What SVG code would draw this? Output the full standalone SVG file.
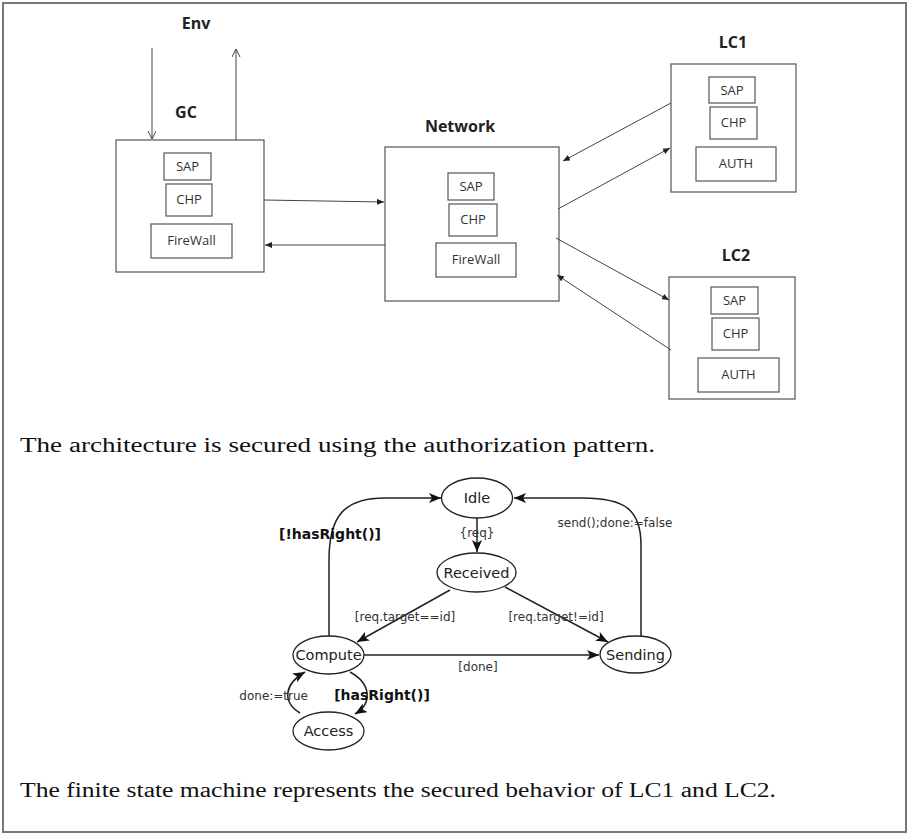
<svg xmlns="http://www.w3.org/2000/svg" width="909" height="836" viewBox="0 0 909 836">
<style>
.box{fill:none;stroke:#555;stroke-width:1.2}
.ln{fill:none;stroke:#444;stroke-width:1}
.ttl{font-family:"Open Sans",sans-serif;font-weight:bold;font-size:16px;fill:#222;text-anchor:middle}
.lbl{font-family:"Open Sans",sans-serif;font-size:13px;fill:#333;text-anchor:middle}
.st{fill:#fff;stroke:#222;stroke-width:1.3}
.stl{font-family:"DejaVu Sans",sans-serif;font-size:14.5px;fill:#222;text-anchor:middle}
.e{fill:none;stroke:#222;stroke-width:1.5}
.el{font-family:"DejaVu Sans",sans-serif;font-size:12px;fill:#333}
.eb{font-family:"DejaVu Sans",sans-serif;font-size:14px;font-weight:bold;fill:#111}
.cap{font-family:"Liberation Serif",serif;font-size:20px;fill:#111}
</style>
<defs>
<marker id="tri" markerUnits="userSpaceOnUse" markerWidth="8" markerHeight="6" refX="7" refY="3" orient="auto"><path d="M0,0 L7,3 L0,6 z" fill="#222"/></marker>
<marker id="vee" markerUnits="userSpaceOnUse" markerWidth="10" markerHeight="10" refX="8" refY="4" orient="auto"><path d="M0,0 L8,4 L0,8" fill="none" stroke="#444" stroke-width="1"/></marker>
<marker id="barb" markerUnits="userSpaceOnUse" markerWidth="14" markerHeight="12" refX="12" refY="5" orient="auto"><path d="M0,0 L12,5 L0,10 L3,5 z" fill="#111"/></marker>
</defs>
<rect x="3" y="3" width="903" height="829" fill="none" stroke="#777" stroke-width="2"/>

<g id="env"><text class="ttl" x="196" y="29">Env</text></g>

<g id="gc">
<text class="ttl" x="186" y="118">GC</text>
<rect class="box" x="116" y="140" width="148" height="132"/>
<rect class="box" x="164" y="153" width="47" height="27"/><text class="lbl" x="187.5" y="171">SAP</text>
<rect class="box" x="166" y="184" width="46" height="32"/><text class="lbl" x="189" y="204">CHP</text>
<rect class="box" x="151" y="224" width="81" height="34"/><text class="lbl" x="191.5" y="245">FireWall</text>
</g>

<g id="network">
<text class="ttl" x="460" y="132">Network</text>
<rect class="box" x="385" y="147" width="174" height="154"/>
<rect class="box" x="448" y="173" width="46" height="27"/><text class="lbl" x="471" y="191">SAP</text>
<rect class="box" x="449" y="204" width="48" height="32"/><text class="lbl" x="473" y="224">CHP</text>
<rect class="box" x="436" y="243" width="80" height="34"/><text class="lbl" x="476" y="264">FireWall</text>
</g>

<g id="lc1">
<text class="ttl" x="733" y="48">LC1</text>
<rect class="box" x="671" y="64" width="125" height="128"/>
<rect class="box" x="709" y="77" width="46" height="26"/><text class="lbl" x="732" y="95">SAP</text>
<rect class="box" x="710" y="107" width="47" height="32"/><text class="lbl" x="733.5" y="127">CHP</text>
<rect class="box" x="696" y="147" width="80" height="34"/><text class="lbl" x="736" y="168">AUTH</text>
</g>

<g id="lc2">
<text class="ttl" x="736" y="261">LC2</text>
<rect class="box" x="669" y="277" width="126" height="122"/>
<rect class="box" x="711" y="287" width="47" height="27"/><text class="lbl" x="734.5" y="305">SAP</text>
<rect class="box" x="712" y="318" width="47" height="32"/><text class="lbl" x="735.5" y="338">CHP</text>
<rect class="box" x="698" y="358" width="81" height="34"/><text class="lbl" x="738.5" y="379">AUTH</text>
</g>

<g id="connectors">
<line class="ln" x1="152" y1="48" x2="152" y2="139" marker-end="url(#vee)"/>
<line class="ln" x1="236" y1="140" x2="236" y2="49" marker-end="url(#vee)"/>
<line class="ln" x1="264" y1="200" x2="384" y2="202" marker-end="url(#tri)"/>
<line class="ln" x1="385" y1="245" x2="265" y2="245" marker-end="url(#tri)"/>
<line class="ln" x1="671" y1="103" x2="563" y2="161" marker-end="url(#tri)"/>
<line class="ln" x1="558" y1="209" x2="670" y2="148" marker-end="url(#tri)"/>
<line class="ln" x1="556" y1="238" x2="669" y2="300" marker-end="url(#tri)"/>
<line class="ln" x1="671" y1="350" x2="557" y2="275" marker-end="url(#tri)"/>
</g>

<g id="cap1"><text class="cap" x="20" y="452" textLength="635" lengthAdjust="spacingAndGlyphs">The architecture is secured using the authorization pattern.</text></g>

<g id="fsm-edges">
<line class="e" x1="477" y1="518" x2="477" y2="552" marker-end="url(#barb)"/>
<path class="e" d="M450,590 L357,642" marker-end="url(#barb)"/>
<path class="e" d="M505,587 L608,642" marker-end="url(#barb)"/>
<path class="e" d="M364,655 L599,655" marker-end="url(#barb)"/>
<path class="e" d="M329,636 V560 C329,515 345,498 385,498 H441" marker-end="url(#barb)"/>
<path class="e" d="M641,636 V545 C641,510 625,498 583,498 H514" marker-end="url(#barb)"/>
<path class="e" d="M350,672 C372,684 372,704 355,714" marker-end="url(#barb)"/>
<path class="e" d="M300,713 C282,702 284,684 305,672" marker-end="url(#barb)"/>
<text class="el" x="477" y="537" text-anchor="middle">{req}</text>
<text class="el" x="405" y="621" text-anchor="middle">[req.target==id]</text>
<text class="el" x="556" y="621" text-anchor="middle">[req.target!=id]</text>
<text class="el" x="478" y="671" text-anchor="middle">[done]</text>
<text class="el" x="615" y="527" text-anchor="middle">send();done:=false</text>
<text class="el" x="308" y="700" text-anchor="end">done:=true</text>
<text class="eb" x="330" y="539" text-anchor="middle">[!hasRight()]</text>
<text class="eb" x="382" y="700" text-anchor="middle">[hasRight()]</text>
</g>

<g id="idle"><ellipse class="st" cx="477" cy="498" rx="35.5" ry="20"/><text class="stl" x="477" y="503">Idle</text></g>
<g id="received"><ellipse class="st" cx="476.5" cy="572.5" rx="39.5" ry="19.5"/><text class="stl" x="476.5" y="577.5">Received</text></g>
<g id="compute"><ellipse class="st" cx="328.5" cy="655" rx="35.5" ry="19"/><text class="stl" x="328.5" y="660">Compute</text></g>
<g id="sending"><ellipse class="st" cx="635.5" cy="654.5" rx="35.5" ry="18.5"/><text class="stl" x="635.5" y="659.5">Sending</text></g>
<g id="access"><ellipse class="st" cx="328.5" cy="731" rx="35.5" ry="19"/><text class="stl" x="328.5" y="736">Access</text></g>

<g id="cap2"><text class="cap" x="20" y="797" textLength="756" lengthAdjust="spacingAndGlyphs">The finite state machine represents the secured behavior of LC1 and LC2.</text></g>
</svg>
